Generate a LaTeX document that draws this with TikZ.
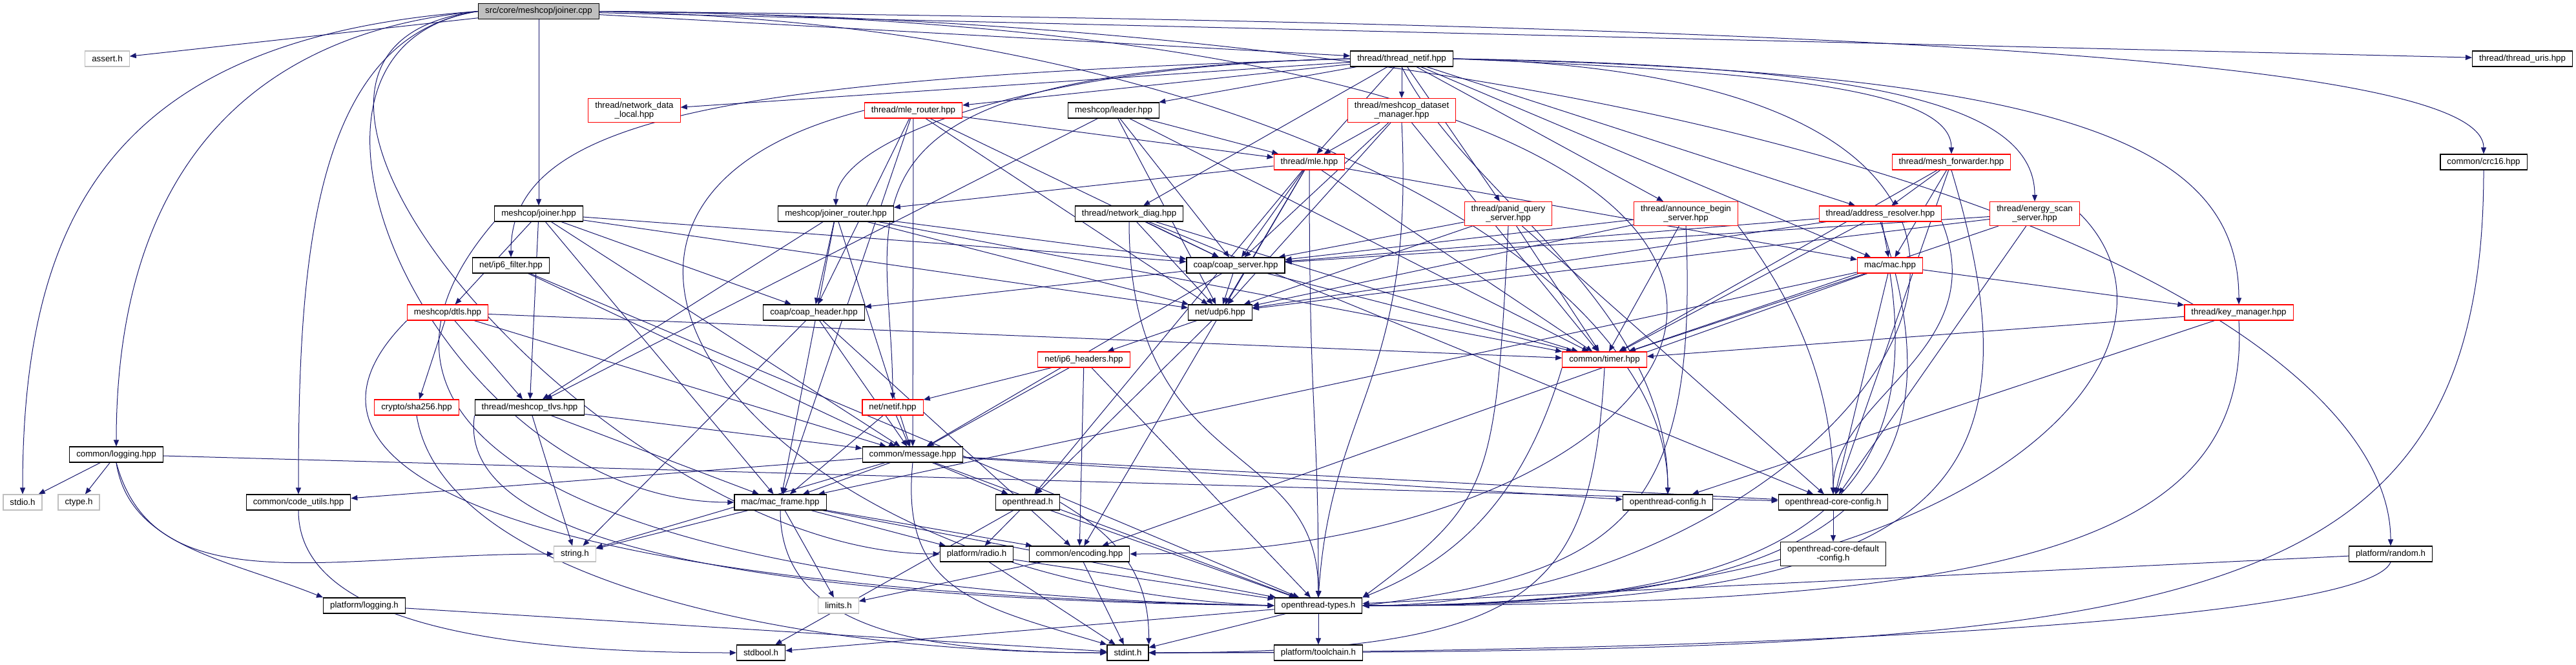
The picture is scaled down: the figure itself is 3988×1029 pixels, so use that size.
\documentclass[tikz,border=0pt]{standalone}
\usepackage{fontspec}
\setmainfont{Liberation Sans}
\usetikzlibrary{arrows.meta}
\pgfdeclarelayer{bg}
\pgfdeclarelayer{edges}
\pgfsetlayers{bg,edges,main}
\definecolor{navy}{HTML}{191970}
\definecolor{grey}{HTML}{BFBFBF}
\begin{document}
\begin{tikzpicture}[x=1pt,y=1pt,
  box/.style={draw=black, line width=1.2pt, fill=white, inner xsep=10.5pt, inner ysep=0pt,
    minimum height=24pt, font=\fontsize{13.3}{14.5}\selectfont, text=black, align=center},
  rbox/.style={box, draw=red},
  gbox/.style={box, draw=grey},
  root/.style={box, fill=grey},
  two/.style={minimum height=37pt},
  e/.style={draw=navy, line width=1pt, -{Triangle[length=10pt,width=8pt]}}]
\begin{pgfonlayer}{bg}
\fill[white] (0,0) rectangle (3988,-1029);
\end{pgfonlayer}
\useasboundingbox (0,0) rectangle (3988,-1029);
% rank 0
\node[root] (jcpp) at (834,-17.5) {src/core/meshcop/joiner.cpp};
% rank 1
\node[gbox] (assert) at (166,-91) {assert.h};
\node[box] (tnetif) at (2170,-91) {thread/thread\_netif.hpp};
\node[box] (turis) at (3905,-91) {thread/thread\_uris.hpp};
% rank 2
\node[rbox,two] (ndl) at (982,-171) {thread/network\_data\\\_local.hpp};
\node[rbox] (mler) at (1414,-171) {thread/mle\_router.hpp};
\node[box] (leader) at (1724,-171) {meshcop/leader.hpp};
\node[rbox,two] (dsm) at (2170,-171) {thread/meshcop\_dataset\\\_manager.hpp};
% rank 3
\node[rbox] (mle) at (2027,-251) {thread/mle.hpp};
\node[rbox] (mfwd) at (3021,-251) {thread/mesh\_forwarder.hpp};
\node[box] (crc) at (3845,-251) {common/crc16.hpp};
% rank 4
\node[box] (jhpp) at (834,-331) {meshcop/joiner.hpp};
\node[box] (jr) at (1294,-331) {meshcop/joiner\_router.hpp};
\node[box] (ndiag) at (1748,-331) {thread/network\_diag.hpp};
\node[rbox,two] (panid) at (2335,-331) {thread/panid\_query\\\_server.hpp};
\node[rbox,two] (announce) at (2610,-331) {thread/announce\_begin\\\_server.hpp};
\node[rbox] (ar) at (2911,-331) {thread/address\_resolver.hpp};
\node[rbox,two] (es) at (3150,-331) {thread/energy\_scan\\\_server.hpp};
% rank 5
\node[box] (ip6f) at (791,-411) {net/ip6\_filter.hpp};
\node[box] (cs) at (1913,-411) {coap/coap\_server.hpp};
\node[rbox] (mac) at (2926,-411) {mac/mac.hpp};
% rank 6
\node[rbox] (dtls) at (693,-484) {meshcop/dtls.hpp};
\node[box] (ch) at (1260,-484) {coap/coap\_header.hpp};
\node[box] (udp) at (1889,-484) {net/udp6.hpp};
\node[rbox] (km) at (3466,-484) {thread/key\_manager.hpp};
% rank 7
\node[rbox] (ip6h) at (1678,-557) {net/ip6\_headers.hpp};
\node[rbox] (timer) at (2484,-557) {common/timer.hpp};
% rank 8
\node[rbox] (sha) at (645,-631) {crypto/sha256.hpp};
\node[box] (tlvs) at (820,-631) {thread/meshcop\_tlvs.hpp};
\node[rbox] (netif) at (1382,-631) {net/netif.hpp};
% rank 9
\node[box] (logh) at (180,-704) {common/logging.hpp};
\node[box] (msg) at (1413,-704) {common/message.hpp};
% rank 10
\node[gbox] (stdio) at (35,-778) {stdio.h};
\node[gbox] (ctype) at (122,-778) {ctype.h};
\node[box] (cu) at (462,-778) {common/code\_utils.hpp};
\node[box] (mf) at (1208,-778) {mac/mac\_frame.hpp};
\node[box] (oth) at (1591,-778) {openthread.h};
\node[box] (otc) at (2582,-778) {openthread-config.h};
\node[box] (otcc) at (2838,-778) {openthread-core-config.h};
% rank 11
\node[gbox] (string) at (890,-858) {string.h};
\node[box] (radio) at (1512,-858) {platform/radio.h};
\node[box] (enc) at (1671,-858) {common/encoding.hpp};
\node[box,two] (otcd) at (2838,-858) {openthread-core-default\\-config.h};
\node[box] (random) at (3701,-858) {platform/random.h};
% rank 12
\node[box] (plog) at (564,-938) {platform/logging.h};
\node[gbox] (limits) at (1298,-938) {limits.h};
\node[box] (ott) at (2041,-938) {openthread-types.h};
% rank 13
\node[box] (stdbool) at (1178,-1011) {stdbool.h};
\node[box] (stdint) at (1746,-1011) {stdint.h};
\node[box] (tc) at (2041,-1011) {platform/toolchain.h};

\begin{pgfonlayer}{edges}
% joiner.cpp
\draw[e] (jcpp) -- (assert);
\draw[e] (jcpp.west) .. controls +(-550,-40) and +(0,450) .. (stdio.north);
\draw[e] (jcpp.west) .. controls +(-420,-40) and +(0,350) .. (logh.north);
\draw[e] (jcpp.west) .. controls +(-260,-40) and +(0,350) .. (cu.north);
\draw[e] (jcpp.west) .. controls +(-480,-60) and +(-500,0) .. (radio.west);
\draw[e] (jcpp.west) .. controls +(-380,-60) and +(-450,0) .. (mf.west);
\draw[e] (jcpp) -- (jhpp);
\draw[e] (jcpp) -- (tnetif);
\draw[e] (jcpp) -- (turis);
\draw[e] (jcpp.east) .. controls +(1900,-20) and +(0,150) .. (crc.north);
\draw[e] (jcpp.east) .. controls +(1900,-20) and +(0,350) .. (random.north);
\draw[e] (jcpp.east) .. controls +(2300,-20) and +(1000,0) .. (enc.east);
\draw[e] (jcpp.east) .. controls +(1000,-20) and +(0,350) .. (otc.north);
% thread_netif
\draw[e] (tnetif) -- (ndl);
\draw[e] (tnetif) -- (mler);
\draw[e] (tnetif) -- (leader);
\draw[e] (tnetif) -- (dsm);
\draw[e] (tnetif) -- (mle);
\draw[e] (tnetif.east) .. controls +(500,-20) and +(0,100) .. (mfwd.north);
\draw[e] (tnetif.west) .. controls +(-500,-10) and +(0,100) .. (jr.north);
\draw[e] (tnetif) -- (ndiag);
\draw[e] (tnetif) -- (panid);
\draw[e] (tnetif) -- (announce);
\draw[e] (tnetif) -- (ar);
\draw[e] (tnetif.east) .. controls +(650,-10) and +(0,150) .. (es.north);
\draw[e] (tnetif.east) .. controls +(950,-20) and +(0,250) .. (km.north);
\draw[e] (tnetif) -- (mac);
\draw[e] (tnetif.west) .. controls +(-950,-30) and +(0,220) .. (ip6f.north);
\draw[e] (tnetif.west) .. controls +(-850,-20) and +(0,300) .. (netif.north);
\draw[e] (tnetif.east) .. controls +(1250,-30) and +(750,0) .. (ott.east);
\draw[e] (tnetif.south) .. controls +(100,-200) and +(0,300) .. (otc.north);
% mle_router
\draw[e] (mler) -- (mle);
\draw[e] (mler) -- (cs);
\draw[e] (mler) -- (ch);
\draw[e] (mler) -- (udp);
\draw[e] (mler) -- (msg);
\draw[e] (mler) -- (mf);
\draw[e] (mler.west) .. controls +(-600,-150) and +(-800,30) .. (ott.west);
% leader
\draw[e] (leader) -- (mle);
\draw[e] (leader) -- (cs);
\draw[e] (leader) -- (udp);
\draw[e] (leader) -- (tlvs);
\draw[e] (leader) -- (timer);
% dataset manager
\draw[e] (dsm) -- (mle);
\draw[e] (dsm) -- (cs);
\draw[e] (dsm) -- (udp);
\draw[e] (dsm.south) .. controls +(20,-400) and +(20,300) .. (ott.north);
\draw[e] (dsm) -- (timer);
% mle
\draw[e] (mle) -- (jr);
\draw[e] (mle) -- (mac);
\draw[e] (mle) -- (cs);
\draw[e] (mle) -- (udp);
\draw[e] (mle) -- (timer);
\draw[e] (mle) -- (oth);
\draw[e] (mle) -- (enc);
\draw[e] (mle.south) .. controls +(0,-400) and +(0,300) .. (ott.north);
% mesh forwarder
\draw[e] (mfwd) -- (ar);
\draw[e] (mfwd) -- (mac);
\draw[e] (mfwd) -- (timer);
\draw[e] (mfwd.south) .. controls +(150,-500) and +(900,0) .. (ott.east);
\draw[e] (mfwd) -- (otcc);
% crc16
\draw[e] (crc.south) .. controls +(0,-700) and +(1600,0) .. (stdint.east);
% joiner.hpp
\draw[e] (jhpp) -- (cs);
\draw[e] (jhpp) -- (ch);
\draw[e] (jhpp) -- (udp);
\draw[e] (jhpp) -- (dtls);
\draw[e] (jhpp) -- (tlvs);
\draw[e] (jhpp) -- (msg);
\draw[e] (jhpp) -- (mf);
\draw[e] (jhpp.south west) .. controls +(-300,-350) and +(-1000,20) .. (ott.west);
% joiner_router
\draw[e] (jr) -- (cs);
\draw[e] (jr) -- (ch);
\draw[e] (jr) -- (udp);
\draw[e] (jr) -- (msg);
\draw[e] (jr) -- (mf);
\draw[e] (jr) -- (tlvs);
\draw[e] (jr) -- (timer);
% network_diag
\draw[e] (ndiag) -- (cs);
\draw[e] (ndiag) -- (udp);
\draw[e] (ndiag) -- (timer);
\draw[e] (ndiag.south) .. controls +(0,-400) and +(0,250) .. (ott.north);
\draw[e] (ndiag) -- (otcc);
% panid
\draw[e] (panid) -- (cs);
\draw[e] (panid) -- (udp);
\draw[e] (panid) -- (timer);
\draw[e] (panid.south) .. controls +(-20,-400) and +(200,150) .. (ott.north east);
\draw[e] (panid) -- (otcc);
% announce
\draw[e] (announce) -- (cs);
\draw[e] (announce) -- (udp);
\draw[e] (announce) -- (timer);
\draw[e] (announce.south) .. controls +(20,-450) and +(400,50) .. (ott.east);
\draw[e] (announce.south east) .. controls +(60,-80) and +(0,200) .. (otcc.north);
% address resolver
\draw[e] (ar) -- (cs);
\draw[e] (ar) -- (udp);
\draw[e] (ar) -- (mac);
\draw[e] (ar) -- (timer);
\draw[e] (ar.south east) .. controls +(80,-200) and +(0,150) .. (otcc.north);
\draw[e] (ar.south) .. controls +(150,-450) and +(700,0) .. (ott.east);
% energy scan
\draw[e] (es) -- (cs);
\draw[e] (es) -- (udp);
\draw[e] (es) -- (timer);
\draw[e] (es.east) .. controls +(200,-200) and +(1000,0) .. (ott.east);
\draw[e] (es) -- (otcc);
% ip6 filter
\draw[e] (ip6f) -- (msg);
\draw[e] (ip6f) -- (ott);
% coap server
\draw[e] (cs) -- (ch);
\draw[e] (cs) -- (udp);
\draw[e] (cs) -- (msg);
\draw[e] (cs) -- (timer);
% mac
\draw[e] (mac) -- (km);
\draw[e] (mac) -- (timer);
\draw[e] (mac) -- (mf);
\draw[e] (mac) -- (otcc);
\draw[e] (mac.south) .. controls +(60,-400) and +(600,0) .. (ott.east);
\draw[e] (mac) -- (enc);
% dtls
\draw[e] (dtls) -- (sha);
\draw[e] (dtls) -- (tlvs);
\draw[e] (dtls) -- (msg);
\draw[e] (dtls) -- (timer);
\draw[e] (dtls.south west) .. controls +(-250,-250) and +(-1100,20) .. (ott.west);
% coap header
\draw[e] (ch) -- (msg);
\draw[e] (ch) -- (string);
\draw[e] (ch) -- (enc);
% udp6
\draw[e] (udp) -- (ip6h);
\draw[e] (udp) -- (oth);
% key manager
\draw[e] (km) -- (timer);
\draw[e] (km.south) .. controls +(20,-350) and +(1000,0) .. (ott.east);
\draw[e] (km) -- (otc);
% ip6 headers
\draw[e] (ip6h) -- (netif);
\draw[e] (ip6h) -- (msg);
\draw[e] (ip6h) -- (enc);
\draw[e] (ip6h) -- (ott);
% timer
\draw[e] (timer.south west) .. controls +(-60,-200) and +(150,60) .. (ott.north east);
\draw[e] (timer.south) .. controls +(-20,-350) and +(600,0) .. (stdint.east);
% sha256
\draw[e] (sha.south) .. controls +(40,-250) and +(-500,0) .. (stdint.west);
% meshcop tlvs
\draw[e] (tlvs) -- (string);
\draw[e] (tlvs) -- (msg);
\draw[e] (tlvs) -- (mf);
\draw[e] (tlvs.south west) .. controls +(-30,-200) and +(-800,10) .. (ott.west);
% netif
\draw[e] (netif) -- (msg);
\draw[e] (netif) -- (mf);
% logging.hpp
\draw[e] (logh) -- (stdio);
\draw[e] (logh) -- (ctype);
\draw[e] (logh.south) .. controls +(60,-220) and +(-350,0) .. (string.west);
\draw[e] (logh.south) .. controls +(20,-130) and +(-150,60) .. (plog.north west);
\draw[e] (logh) -- (otcc);
% message
\draw[e] (msg) -- (cu);
\draw[e] (msg) -- (mf);
\draw[e] (msg) -- (string);
\draw[e] (msg) -- (otc);
\draw[e] (msg) -- (otcc);
\draw[e] (msg) -- (ott);
\draw[e] (msg.south) .. controls +(-20,-200) and +(-200,60) .. (stdint.north west);
\draw[e] (msg) -- (oth);
% code utils
\draw[e] (cu.south) .. controls +(0,-180) and +(-350,0) .. (stdbool.west);
% mac frame
\draw[e] (mf) -- (limits);
\draw[e] (mf.south) .. controls +(0,-180) and +(-300,0) .. (stdint.west);
\draw[e] (mf) -- (string);
\draw[e] (mf) -- (radio);
\draw[e] (mf) -- (enc);
\draw[e] (mf) -- (ott);
% openthread.h
\draw[e] (oth) -- (stdbool);
\draw[e] (oth) -- (radio);
\draw[e] (oth.east) .. controls +(100,-60) and +(0,100) .. (stdint.north east);
\draw[e] (oth) -- (ott);
% config
\draw[e] (otcc) -- (otcd);
% radio, encoding, random, logging
\draw[e] (radio) -- (ott);
\draw[e] (radio) -- (stdint);
\draw[e] (enc) -- (limits);
\draw[e] (enc) -- (stdint);
\draw[e] (random) -- (ott);
\draw[e] (random.south) .. controls +(-40,-100) and +(800,0) .. (stdint.east);
\draw[e] (plog) -- (stdint);
% openthread-types
\draw[e] (ott) -- (stdbool);
\draw[e] (ott) -- (stdint);
\draw[e] (ott) -- (tc);
\end{pgfonlayer}
\end{tikzpicture}
\end{document}
